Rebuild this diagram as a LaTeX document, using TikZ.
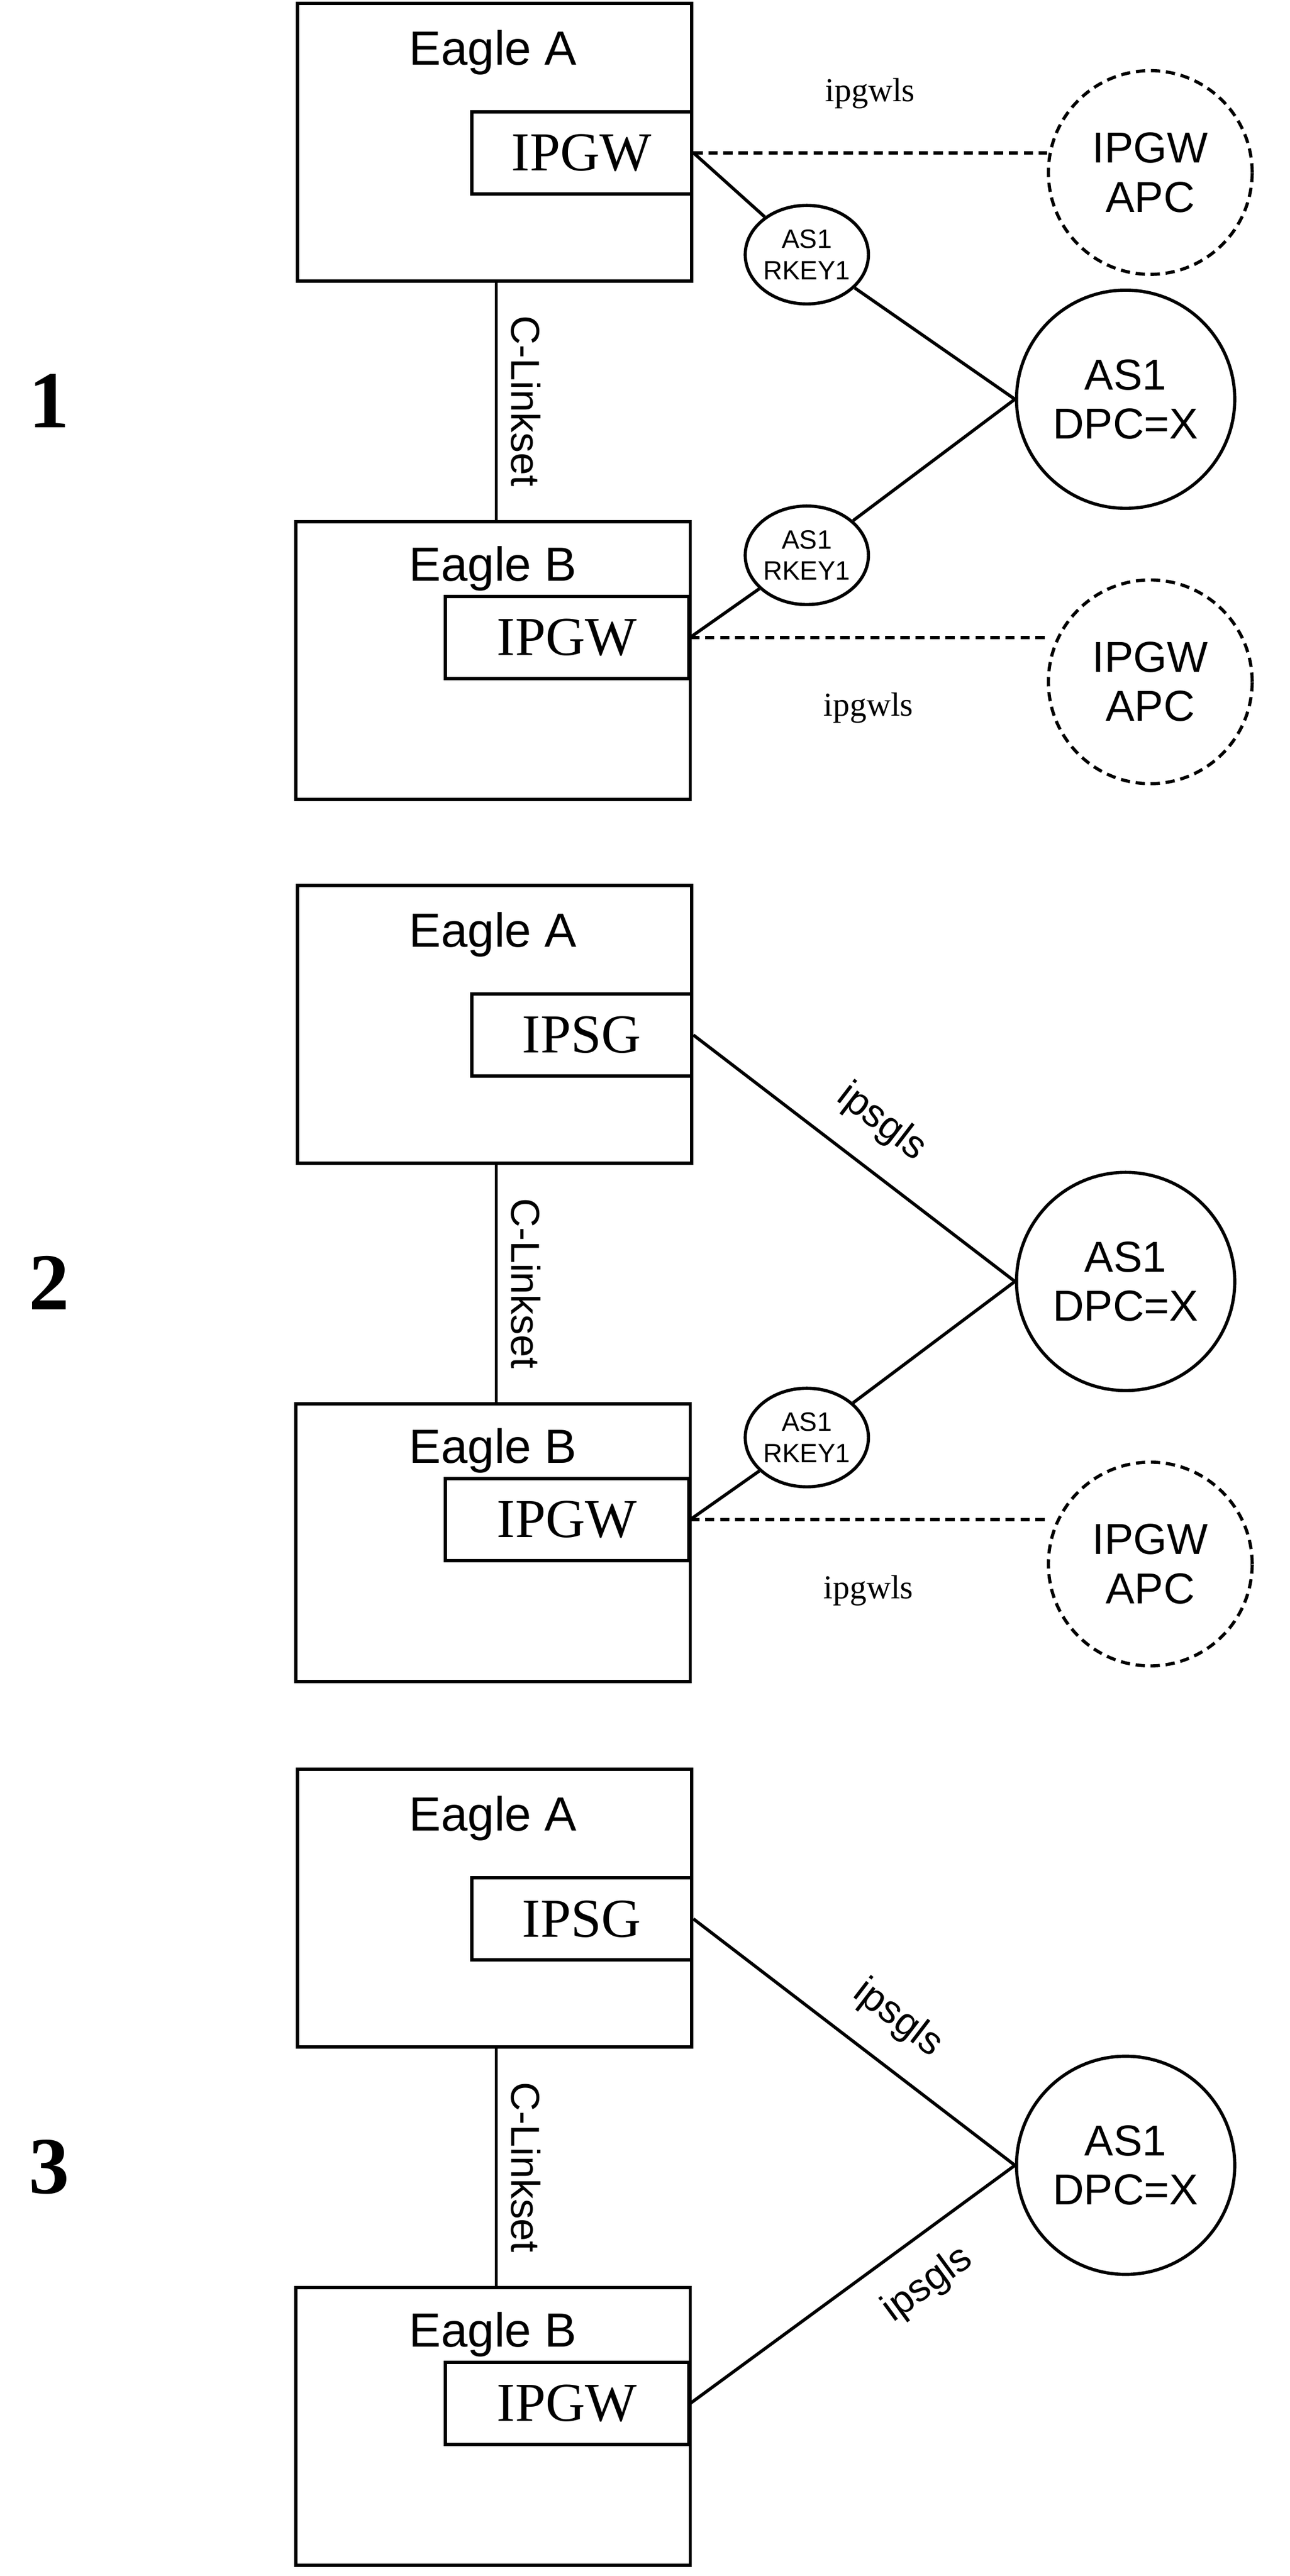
\documentclass[tikz,border=0pt]{standalone}
\usepackage{fontspec}
\setmainfont{Liberation Serif}
\newfontfamily\arialfont{Liberation Sans}
\usetikzlibrary{positioning,shapes.geometric}
\tikzset{
  eagle/.style={draw,minimum width=24mm,minimum height=16.9mm},
  card/.style={draw,minimum height=5mm,font=\fontsize{9.5}{10}\selectfont},
  dpc/.style={draw,circle,minimum size=12.4mm,align=center,font=\arialfont\fontsize{7.5}{8.5}\selectfont},
  dsh/.style={dash pattern=on 1.6pt off 1pt},
  apc/.style={dpc,dsh},
  rkey/.style={draw,ellipse,minimum width=7.2mm,minimum height=6mm,inner sep=0pt,align=center,font=\arialfont\fontsize{4.6}{5.4}\selectfont},
  lbl/.style={font=\arialfont\fontsize{8.3}{9}\selectfont},
  small/.style={font=\fontsize{5.8}{6.5}\selectfont},
  sls/.style={font=\arialfont\fontsize{6.8}{7.5}\selectfont},
  num/.style={font=\bfseries\fontsize{14}{15}\selectfont}
}
\begin{document}
\begin{tikzpicture}[x=0.1mm,y=-0.1mm,line width=0.55pt]
\useasboundingbox (0,0) rectangle (785,1568);
% three panels share boxes, C-Linkset and AS1
\foreach \p/\dy/\ca in {1/0/IPGW,2/537/IPSG,3/1075/IPSG}{
  \node[eagle] (ea\p) at (301,{86.5+\dy}) {};
  \node[lbl] at (300,{32+\dy}) {Eagle A};
  \node[card,minimum width=13.4mm] (ca\p) at (354,{93+\dy}) {\ca};
  \node[eagle] (eb\p) at (300,{402+\dy}) {};
  \node[lbl] at (300,{346+\dy}) {Eagle B};
  \node[card,minimum width=14.8mm] (cb\p) at (345,{388+\dy}) {IPGW};
  \draw (ea\p.south -| 302,0) -- (eb\p.north -| 302,0)
    node[midway,right=-1pt,rotate=-90,anchor=south,font=\arialfont\fontsize{7}{8}\selectfont] {C-Linkset};
  \node[dpc] (as\p) at (685,{243+\dy}) {AS1\\DPC=X};
  \node[num] at (30,{244+\dy}) {\p};
}
% panel 1
\node[rkey] (rk1a) at (491,155) {AS1\\RKEY1};
\node[rkey] (rk1b) at (491,338) {AS1\\RKEY1};
\node[apc] (apc1a) at (700,105) {IPGW\\APC};
\node[apc] (apc1b) at (700,415) {IPGW\\APC};
\draw (ca1.east) -- (rk1a) -- (as1.west);
\draw (cb1.east) -- (rk1b) -- (as1.west);
\draw[dsh] (ca1.east) -- (apc1a.west |- ca1.east) node[midway,above=4pt,small] {ipgwls};
\draw[dsh] (cb1.east) -- (apc1b.west |- cb1.east) node[midway,below=6pt,small] {ipgwls};
% panel 2
\node[rkey] (rk2) at (491,875) {AS1\\RKEY1};
\node[apc] (apc2) at (700,952) {IPGW\\APC};
\draw (ca2.east) -- (as2.west) node[pos=0.5,above=1pt,sloped,sls] {ipsgls};
\draw (cb2.east) -- (rk2) -- (as2.west);
\draw[dsh] (cb2.east) -- (apc2.west |- cb2.east) node[midway,below=6pt,small] {ipgwls};
% panel 3
\draw (ca3.east) -- (as3.west) node[pos=0.55,above=1pt,sloped,sls] {ipsgls};
\draw (cb3.east) -- (as3.west) node[pos=0.65,below=1pt,sloped,sls] {ipsgls};
\end{tikzpicture}
\end{document}
